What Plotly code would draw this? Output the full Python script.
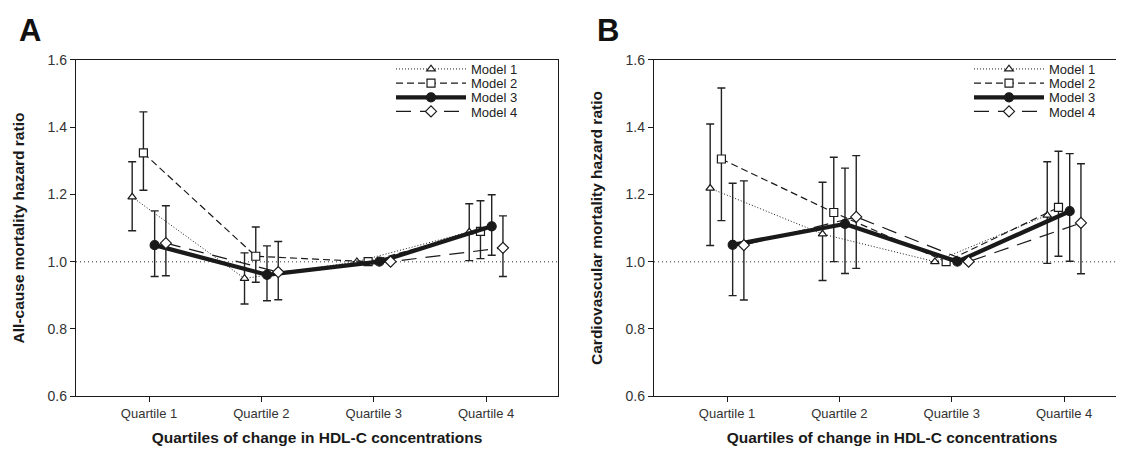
import plotly.graph_objects as go

# ---------------- data ----------------
quartiles = ["Quartile 1", "Quartile 2", "Quartile 3", "Quartile 4"]
models = ["Model 1", "Model 2", "Model 3", "Model 4"]

# Panel A: all-cause mortality hazard ratio (point, lower CI, upper CI); Quartile 3 = reference
allcause_m1 = [1.192, 0.950, 1.0, 1.088]
allcause_m1_lo = [1.092, 0.874, None, 1.003]
allcause_m1_hi = [1.297, 1.026, None, 1.172]
allcause_m2 = [1.323, 1.016, 1.0, 1.090]
allcause_m2_lo = [1.212, 0.939, None, 1.009]
allcause_m2_hi = [1.445, 1.103, None, 1.181]
allcause_m3 = [1.049, 0.961, 1.0, 1.105]
allcause_m3_lo = [0.956, 0.884, None, 1.019]
allcause_m3_hi = [1.151, 1.047, None, 1.199]
allcause_m4 = [1.055, 0.969, 1.0, 1.041]
allcause_m4_lo = [0.958, 0.887, None, 0.956]
allcause_m4_hi = [1.166, 1.060, None, 1.136]

# Panel B: cardiovascular mortality hazard ratio
cvd_m1 = [1.218, 1.082, 1.0, 1.138]
cvd_m1_lo = [1.048, 0.944, None, 0.995]
cvd_m1_hi = [1.409, 1.236, None, 1.297]
cvd_m2 = [1.305, 1.146, 1.0, 1.161]
cvd_m2_lo = [1.122, 1.000, None, 1.016]
cvd_m2_hi = [1.516, 1.310, None, 1.328]
cvd_m3 = [1.050, 1.112, 1.0, 1.150]
cvd_m3_lo = [0.899, 0.965, None, 1.001]
cvd_m3_hi = [1.233, 1.278, None, 1.321]
cvd_m4 = [1.049, 1.133, 1.0, 1.115]
cvd_m4_lo = [0.886, 0.980, None, 0.964]
cvd_m4_hi = [1.240, 1.315, None, 1.291]

y_ticks = [0.6, 0.8, 1.0, 1.2, 1.4, 1.6]
y_title_a = "All-cause mortality hazard ratio"
y_title_b = "Cardiovascular mortality hazard ratio"
x_title = "Quartiles of change in HDL-C concentrations"

# ---------------- styling ----------------
FONT = "Arial, Liberation Sans, sans-serif"
INK = "#1a1a1a"
styles = [
    dict(dash="1px,2px", width=1.0, symbol="triangle-up", fill="white", size=7.5),
    dict(dash="7px,4px", width=1.2, symbol="square", fill="white", size=8),
    dict(dash="solid", width=4.3, symbol="circle", fill=INK, size=9),
    dict(dash="15px,9px", width=1.2, symbol="diamond", fill="white", size=8.5),
]
offsets = [-0.15, -0.05, 0.05, 0.15]

panel_a = [
    (allcause_m1, allcause_m1_lo, allcause_m1_hi),
    (allcause_m2, allcause_m2_lo, allcause_m2_hi),
    (allcause_m3, allcause_m3_lo, allcause_m3_hi),
    (allcause_m4, allcause_m4_lo, allcause_m4_hi),
]
panel_b = [
    (cvd_m1, cvd_m1_lo, cvd_m1_hi),
    (cvd_m2, cvd_m2_lo, cvd_m2_hi),
    (cvd_m3, cvd_m3_lo, cvd_m3_hi),
    (cvd_m4, cvd_m4_lo, cvd_m4_hi),
]


def err_up(v, hi):
    return [None if h is None else h - p for p, h in zip(v, hi)]


def err_down(v, lo):
    return [None if l is None else p - l for p, l in zip(v, lo)]


fig = go.Figure()

for panel_idx, (panel, xa, ya) in enumerate([(panel_a, "x", "y"), (panel_b, "x2", "y2")]):
    for m, (vals, lo, hi) in enumerate(panel):
        st = styles[m]
        xs = [i + 1 + offsets[m] for i in range(len(quartiles))]
        n = panel_idx * 4 + m
        legend_name = "legend" if n == 0 else f"legend{n + 1}"
        fig.add_trace(go.Scatter(
            x=xs, y=vals, xaxis=xa, yaxis=ya,
            name=models[m], legend=legend_name,
            mode="lines+markers",
            line=dict(color=INK, width=st["width"], dash=st["dash"]),
            marker=dict(symbol=st["symbol"], size=st["size"], color=st["fill"],
                        line=dict(color=INK, width=1.2)),
            error_y=dict(type="data", symmetric=False,
                         array=err_up(vals, hi), arrayminus=err_down(vals, lo),
                         color="#222222", thickness=1.4, width=4),
        ))

W, H = 1124, 449
top_px, bot_px = 51.7, 388.3
ydom = [(H - bot_px) / H, (H - top_px) / H]
xdom_a = [68 / W, 550 / W]
xdom_b = [646 / W, 1122 / W]
px_per_unit = (550 - 68) / (4.64 - 0.35)
xr_a = [0.35, 4.64]
xr_b = [0.35, 0.35 + (1122 - 646) / px_per_unit]

axis_common = dict(showline=True, mirror=True, linecolor=INK, linewidth=1.3,
                   ticks="outside", ticklen=5, tickcolor=INK, tickwidth=1.2,
                   showgrid=False, zeroline=False)

xaxis_kw = dict(tickvals=[1, 2, 3, 4], ticktext=quartiles,
                tickfont=dict(family=FONT, size=13, color="#333333"),
                title=dict(text=x_title, standoff=12,
                           font=dict(family=FONT, size=15.5, color=INK, weight="bold")),
                **axis_common)
yaxis_common = dict(range=[0.6, 1.6], tickvals=y_ticks, tickformat=".1f",
                    tickfont=dict(family=FONT, size=14, color="#333333"),
                    **axis_common)

fig.update_layout(
    width=W, height=H,
    margin=dict(l=0, r=0, t=0, b=0, autoexpand=False),
    paper_bgcolor="white", plot_bgcolor="white",
    xaxis=dict(domain=xdom_a, range=xr_a, anchor="y", **xaxis_kw),
    xaxis2=dict(domain=xdom_b, range=xr_b, anchor="y2", **xaxis_kw),
    yaxis=dict(domain=ydom, anchor="x",
               title=dict(text=y_title_a, standoff=19,
                          font=dict(family=FONT, size=15.5, color=INK, weight="bold")),
               **yaxis_common),
    yaxis2=dict(domain=ydom, anchor="x2",
                title=dict(text=y_title_b, standoff=19,
                           font=dict(family=FONT, size=15.5, color=INK, weight="bold")),
                **yaxis_common),
    showlegend=True,
)

# reference lines at HR = 1.0
for xr, yr in [("x domain", "y"), ("x2 domain", "y2")]:
    fig.add_shape(type="line", xref=xr, yref=yr, x0=0, x1=1, y0=1.0, y1=1.0,
                  line=dict(color="#777777", width=1.5, dash="1px,3px"), layer="below")

# legends: one per row so spacing matches the original
row_px = [61.0, 75.2, 89.4, 103.5]
leg_left_px = [383, 961]
for panel_idx in range(2):
    for m in range(4):
        n = panel_idx * 4 + m
        key = "legend" if n == 0 else f"legend{n + 1}"
        fig.update_layout({key: dict(
            x=leg_left_px[panel_idx] / W, xanchor="left",
            y=(H - row_px[m]) / H, yanchor="middle",
            bgcolor="rgba(0,0,0,0)", borderwidth=0,
            itemwidth=70, tracegroupgap=0,
            font=dict(family=FONT, size=13, color="#222222"),
        )})

# panel letters
for letter, xp in [("A", 22), ("B", 600)]:
    fig.add_annotation(text=letter, x=xp / W, y=(H - 22.5) / H, xref="paper", yref="paper",
                       xanchor="center", yanchor="middle", showarrow=False,
                       font=dict(family=FONT, size=31, color="#111111", weight="bold"))

fig.write_html("out.html")
